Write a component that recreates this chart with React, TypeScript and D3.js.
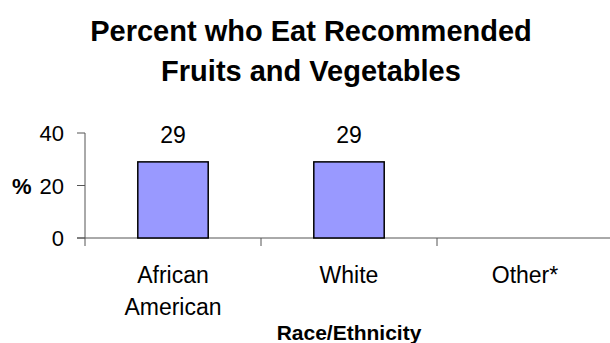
import React from "react";
import * as d3 from "d3";

const categories = ["African American", "White", "Other*"];
const values: (number | null)[] = [29, 29, null];
const yTicks = [0, 20, 40];
const titleLines = ["Percent who Eat Recommended", "Fruits and Vegetables"];

export default function App() {
  const W = 610, H = 343;
  const x0 = 85, x1 = 613;
  const yTop = 133, yBot = 238;
  const x = d3.scaleBand<string>().domain(categories).range([x0, x1]).paddingInner(0.6).paddingOuter(0.3);
  const xOuter = d3.scaleBand<string>().domain(categories).range([x0, x1]);
  const y = d3.scaleLinear().domain([0, 40]).range([yBot, yTop]);
  const font = "'Liberation Sans', Arial, sans-serif";
  return (
    <svg width={W} height={H} style={{ position: "absolute", left: 0, top: 0 }} fontFamily={font}>
      <rect width={W} height={H} fill="#fff" />
      {titleLines.map((t, i) => (
        <text key={i} x={311} y={41 + i * 40} textAnchor="middle" fontSize={29} fontWeight="bold">{t}</text>
      ))}
      <line x1={x0} x2={x0} y1={yTop} y2={yBot + 8} stroke="#555" strokeWidth={1} />
      {yTicks.map(t => (
        <g key={t}>
          <line x1={x0 - 8} x2={x0} y1={y(t)} y2={y(t)} stroke="#555" />
          <text x={x0 - 21} y={y(t) + 8} textAnchor="end" fontSize={22}>{t}</text>
        </g>
      ))}
      <text x={12} y={y(20) + 8} fontSize={22} fontWeight="bold">%</text>
      <line x1={x0 - 8} x2={W} y1={yBot} y2={yBot} stroke="#555" />
      {categories.map(c => (
        <line key={c} x1={(xOuter(c) as number) + xOuter.bandwidth()} x2={(xOuter(c) as number) + xOuter.bandwidth()} y1={yBot} y2={yBot + 8} stroke="#555" />
      ))}
      {categories.map((c, i) => {
        const v = values[i];
        if (v == null) return null;
        const bx = x(c) as number;
        return (
          <g key={c}>
            <rect x={bx} y={y(v)} width={x.bandwidth()} height={yBot - y(v)} fill="#9999FF" stroke="#000" strokeWidth={1.5} />
            <text x={bx + x.bandwidth() / 2} y={y(v) - 19} textAnchor="middle" fontSize={23}>{v}</text>
          </g>
        );
      })}
      {categories.map(c => {
        const cx = (xOuter(c) as number) + xOuter.bandwidth() / 2;
        const words = c === "African American" ? ["African", "American"] : [c];
        return words.map((w, j) => (
          <text key={c + j} x={cx} y={283 + j * 32} textAnchor="middle" fontSize={23}>{w}</text>
        ));
      })}
      <text x={(x0 + x1) / 2} y={340} textAnchor="middle" fontSize={21} fontWeight="bold">Race/Ethnicity</text>
    </svg>
  );
}
